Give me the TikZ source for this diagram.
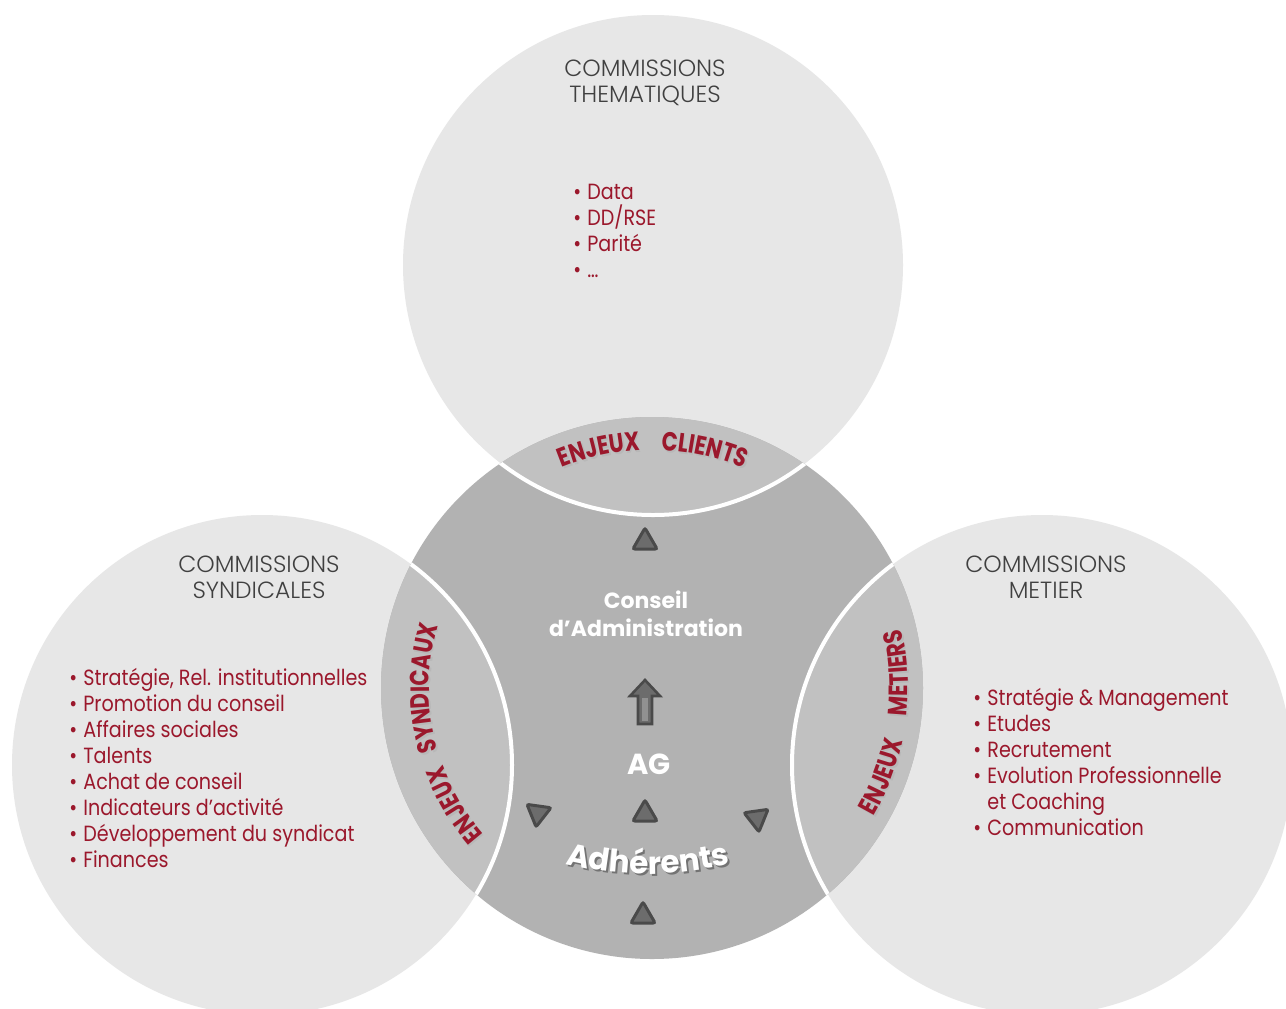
\documentclass[tikz,border=0pt]{standalone}
\usepackage{fontspec}
\setmainfont{Poppins}
\newfontfamily\listfont{Poppins}[FakeStretch=0.87]
\newfontfamily\enjeuxfamily{Poppins}[FakeStretch=0.8]
\newfontfamily\headfont{Poppins Light}
\usetikzlibrary{shapes.geometric,decorations.text}

\definecolor{ringgray}{RGB}{231,231,231}
\definecolor{coregray}{RGB}{178,178,178}
\definecolor{lensgray}{RGB}{193,193,193}
\definecolor{enjeuxred}{RGB}{155,24,44}
\definecolor{headgray}{RGB}{64,64,64}
\definecolor{arrowgray}{RGB}{108,108,108}
\definecolor{arrowedge}{RGB}{74,74,74}
\newcommand\fontenjeux{\enjeuxfamily\fontsize{13.2}{13}\selectfont\bfseries}
\newcommand\puce{\makebox[7pt][l]{\textbullet}}

\begin{document}
\begin{tikzpicture}[x=0.5pt,y=0.5pt]
\tikzstyle{heading}=[text=headgray,font=\headfont\fontsize{11.7}{13}\selectfont,align=center]
\tikzstyle{liste}=[text=enjeuxred,font=\listfont\fontsize{11}{13}\selectfont,align=left,anchor=base west,inner sep=0pt]
\tikzstyle{core text}=[text=white,font=\fontsize{11}{14}\selectfont\bfseries,align=center]
\tikzstyle{tri}=[regular polygon,regular polygon sides=3,fill=arrowgray,draw=arrowedge,line width=1.5pt,rounded corners=1pt,minimum size=14pt,inner sep=0pt]
\tikzstyle{enjeux}=[decorate,decoration={text along path,text align=center,text color=enjeuxred}]
\tikzstyle{ombre}=[decorate,decoration={text along path,text align=center,text color=black!28}]
\useasboundingbox (0,0) rectangle (1286,-1008);
\fill[white] (0,0) rectangle (1286,-1008);
\coordinate (top) at (653,-265);
\coordinate (core) at (652,-688);
\coordinate (left) at (262,-765);
\coordinate (right) at (1042,-765);
% les cercles
\fill[ringgray] (top) circle[radius=250];
\fill[ringgray] (left) circle[radius=250];
\fill[ringgray] (right) circle[radius=250];
\fill[coregray] (core) circle[radius=271];
\begin{scope}
\clip (core) circle[radius=271];
\foreach \c in {top,left,right}
  \filldraw[fill=lensgray,draw=white,line width=2pt] (\c) circle[radius=250];
\end{scope}
% enjeux
\foreach \a/\b/\r/\mot in {118/87/238/ENJEUX,93/62/238/CLIENTS,225/196/223/ENJEUX,200/160/223/SYNDICAUX,-36/-6/256/ENJEUX,-14/21/256/METIERS}{
  \path[ombre,decoration={text/.expanded={|\noexpand\fontenjeux|\mot}}] ([shift={(1.5,-2)}]core) ++(\a:\r) arc[start angle=\a,end angle=\b,radius=\r];
  \path[enjeux,decoration={text/.expanded={|\noexpand\fontenjeux|\mot}}] (core) ++(\a:\r) arc[start angle=\a,end angle=\b,radius=\r];
}
% titres
\node[heading] (thema) at (645,-83) {COMMISSIONS\\THEMATIQUES};
\node[heading] (syndi) at (259,-577) {COMMISSIONS\\SYNDICALES};
\node[heading] (metier) at (1046,-577) {COMMISSIONS\\METIER};
% listes
\node[liste] (liste thema) at (573,-277) {\puce Data\\\puce DD/RSE\\\puce Parité\\\puce \ldots};
\node[liste] (liste syndi) at (69,-867) {\puce Stratégie, Rel. institutionnelles\\\puce Promotion du conseil\\\puce Affaires sociales\\\puce Talents\\\puce Achat de conseil\\\puce Indicateurs d’activité\\\puce Développement du syndicat\\\puce Finances};
\node[liste] (liste metier) at (973,-835) {\puce Stratégie \& Management\\\puce Etudes\\\puce Recrutement\\\puce Evolution Professionnelle\\\hspace*{7pt}et Coaching\\\puce Communication};
% centre
\node[core text] (ca) at (646,-614) {Conseil\\d’Administration};
\node[core text,font=\fontsize{14.5}{16}\selectfont\bfseries] (ag) at (649,-764) {AG};
\path[decorate,decoration={text along path,text align=center,text color=black!55,text={|\fontsize{15.5}{15}\selectfont\bfseries|Adhérents}}] (650,-526) ++(245:350) arc[start angle=245,end angle=295,radius=350];
\path[decorate,decoration={text along path,text align=center,text color=white,text={|\fontsize{15.5}{15}\selectfont\bfseries|Adhérents}}] (648,-524) ++(245:350) arc[start angle=245,end angle=295,radius=350];
\node[tri] (t ca) at (645,-542) {};
\node[tri] (t ag) at (645,-814) {};
\node[tri,shape border rotate=172] (t syndi) at (538,-813) {};
\node[tri,shape border rotate=188] (t metier) at (757,-818) {};
\node[tri] (t adh) at (643,-916) {};
\draw[fill=arrowgray,draw=arrowedge,line width=1.3pt] (638,-724) -- (652,-724) -- (652,-696) -- (660,-696) -- (645,-680) -- (630,-696) -- (638,-696) -- cycle;
\fill[arrowgray!75!white] (642,-721) rectangle (648,-698);
\end{tikzpicture}
\end{document}
